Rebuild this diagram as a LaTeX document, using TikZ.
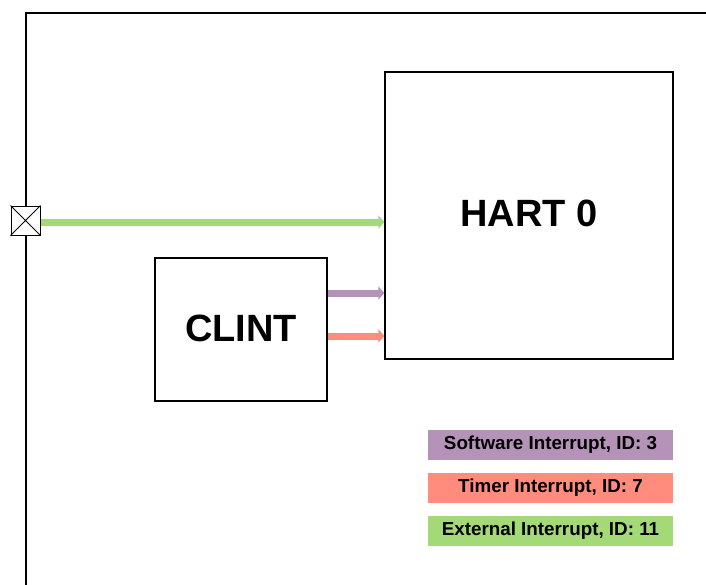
\documentclass[tikz,border=0pt]{standalone}
\usepackage{fontspec}
\setmainfont{Liberation Sans}
\usetikzlibrary{arrows.meta}
\definecolor{swc}{HTML}{B592B8}
\definecolor{tmc}{HTML}{FF8C7C}
\definecolor{exc}{HTML}{A3D977}
\tikzset{
  blk/.style={draw=black, line width=1.2pt, fill=white, inner sep=0pt, font=\bfseries\fontsize{38}{44}\selectfont},
  sig/.style={line width=7pt, -{Triangle[length=6pt,width=13pt]}},
  leg/.style={minimum width=245pt, minimum height=30pt, inner sep=0pt, font=\bfseries\fontsize{18.8}{22}\selectfont},
}
\begin{document}
\begin{tikzpicture}[x=1pt,y=-1pt]
\useasboundingbox (0,0) rectangle (706,584);
\draw[line width=1.2pt] (26,590) -- (26,13) -- (712,13);
\node[draw, line width=1pt, fill=white, minimum size=29pt, inner sep=0pt] (port) at (25.5,220.5) {};
\draw[line width=0.8pt] (port.north west) -- (port.south east) (port.north east) -- (port.south west);
\node[blk, minimum width=288pt, minimum height=287pt] (hart) at (529,215.5) {\raisebox{4pt}{HART 0}};
\node[blk, minimum width=172pt, minimum height=143pt] (clint) at (241,329.5) {\raisebox{3pt}{CLINT}};
\coordinate (h1) at (hart.west |- 0,222);
\coordinate (h2) at (hart.west |- 0,293);
\coordinate (h3) at (hart.west |- 0,336);
\draw[sig, exc] (port.east |- h1) -- (h1);
\draw[sig, swc] (clint.east |- h2) -- (h2);
\draw[sig, tmc] (clint.east |- h3) -- (h3);
\node[leg, fill=swc] (l1) at (550.5,445) {\raisebox{-1.5pt}{Software Interrupt, ID: 3}};
\node[leg, fill=tmc] (l2) at (550.5,488) {\raisebox{-1.5pt}{Timer Interrupt, ID: 7}};
\node[leg, fill=exc] (l3) at (550.5,531) {\raisebox{-1.5pt}{External Interrupt, ID: 11}};
\end{tikzpicture}
\end{document}
